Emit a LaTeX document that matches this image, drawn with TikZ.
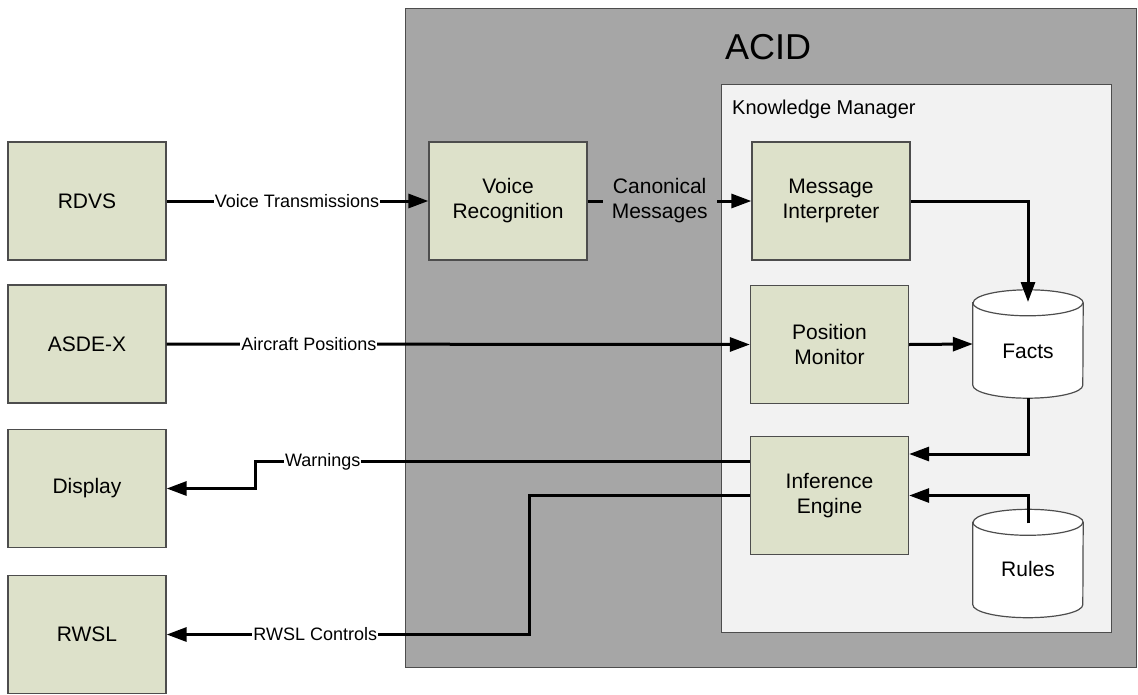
\documentclass[tikz,border=0pt]{standalone}
\usepackage{fontspec}
\setmainfont{Liberation Sans}
\usetikzlibrary{arrows.meta}
\definecolor{boxfill}{HTML}{DDE1CA}
\definecolor{acidgray}{HTML}{A6A6A6}
\definecolor{kmfill}{HTML}{F2F2F2}
\definecolor{edgecol}{HTML}{4D4D4D}
\begin{document}
\begin{tikzpicture}[x=1pt,y=-1pt,
  blk/.style={draw=edgecol, fill=boxfill, line width=1.3pt, minimum width=158pt, minimum height=118pt,
    inner sep=0pt, align=center, font=\fontsize{21}{25}\selectfont},
  dbbox/.style={minimum width=110pt, minimum height=108pt, inner sep=0pt},
  dbline/.style={draw=edgecol, fill=white, line width=1.2pt},
  dbtext/.style={font=\fontsize{21}{25}\selectfont, inner sep=0pt},
  conn/.style={draw=black, line width=3pt, -{Triangle[length=20pt,width=14pt]}},
  lbl/.style={fill=white, inner sep=1pt, font=\fontsize{18}{21}\selectfont}]
\useasboundingbox (0,0) rectangle (1138,694);
% containers
\node[draw=edgecol, fill=acidgray, line width=1.3pt, minimum width=731pt, minimum height=659pt,
  anchor=north west, inner sep=0pt] (acid) at (405,8) {};
\node[font=\fontsize{36}{40}\selectfont] (acidlabel) at (768,47) {ACID};
\node[draw=edgecol, fill=kmfill, line width=1.3pt, minimum width=390pt, minimum height=548pt,
  anchor=north west, inner sep=0pt] (km) at (721,84) {};
\node[anchor=west, font=\fontsize{20}{24}\selectfont, inner sep=0pt] (kmlabel) at (732,109) {Knowledge Manager};
% external boxes
\node[blk] (rdvs) at (87,201) {RDVS};
\node[blk] (asdex) at (87,344) {ASDE-X};
\node[blk] (display) at (87,488.5) {Display};
\node[blk] (rwsl) at (87,634.5) {RWSL};
% inner boxes
\node[blk] (vr) at (508,201) {Voice\\Recognition};
\node[blk] (mi) at (831,201) {Message\\Interpreter};
\node[blk] (pm) at (829.5,344.5) {Position\\Monitor};
\node[blk] (ie) at (829.5,495.5) {Inference\\Engine};
% data stores (cylinders)
\node[dbbox] (facts) at (1028,344) {};
\draw[dbline] ([yshift=-13pt]facts.north west) -- ([yshift=13pt]facts.south west)
  arc[start angle=180,end angle=360,x radius=55pt,y radius=13pt]
  -- ([yshift=-13pt]facts.north east)
  arc[start angle=0,end angle=180,x radius=55pt,y radius=13pt] -- cycle;
\draw[dbline, fill=none] ([yshift=-13pt]facts.north west)
  arc[start angle=180,end angle=360,x radius=55pt,y radius=13pt];
\node[dbtext] (factstext) at (1028,351) {Facts};
\node[dbbox] (rules) at (1028,563.5) {};
\draw[dbline] ([yshift=-13pt]rules.north west) -- ([yshift=13pt]rules.south west)
  arc[start angle=180,end angle=360,x radius=55pt,y radius=13pt]
  -- ([yshift=-13pt]rules.north east)
  arc[start angle=0,end angle=180,x radius=55pt,y radius=13pt] -- cycle;
\draw[dbline, fill=none] ([yshift=-13pt]rules.north west)
  arc[start angle=180,end angle=360,x radius=55pt,y radius=13pt];
\node[dbtext] (rulestext) at (1028,569) {Rules};
\coordinate (ftop) at (1028,302);
% connectors
\draw[conn] (rdvs.east) -- node[lbl, pos=0.498] (vtl) {Voice Transmissions} (vr.west);
\draw[conn] (asdex.east) -- node[lbl, pos=0.244] (apl) {Aircraft Positions} (pm.west);
\draw[conn] (vr.east) -- node[lbl, fill=acidgray, inner xsep=9pt, align=center,
  font=\fontsize{21}{25}\selectfont, pos=0.44] (cml) {Canonical\\Messages} (mi.west);
\draw[conn] (mi.east) -| (ftop);
\draw[conn] (pm.east) -- (facts.west);
\draw[conn] (facts.south) |- ([yshift=41.5pt]ie.east);
\draw[conn] ([yshift=-14pt]rules.north) |- (ie.east);
\draw[conn] ([yshift=34pt]ie.west) -- node[lbl, pos=0.863] (wl) {Warnings} (255,461.5) |- (display.east);
\draw[conn] (ie.west) -- (529,495.5) |- node[lbl, pos=0.795] (rcl) {RWSL Controls} (rwsl.east);
\end{tikzpicture}
\end{document}
